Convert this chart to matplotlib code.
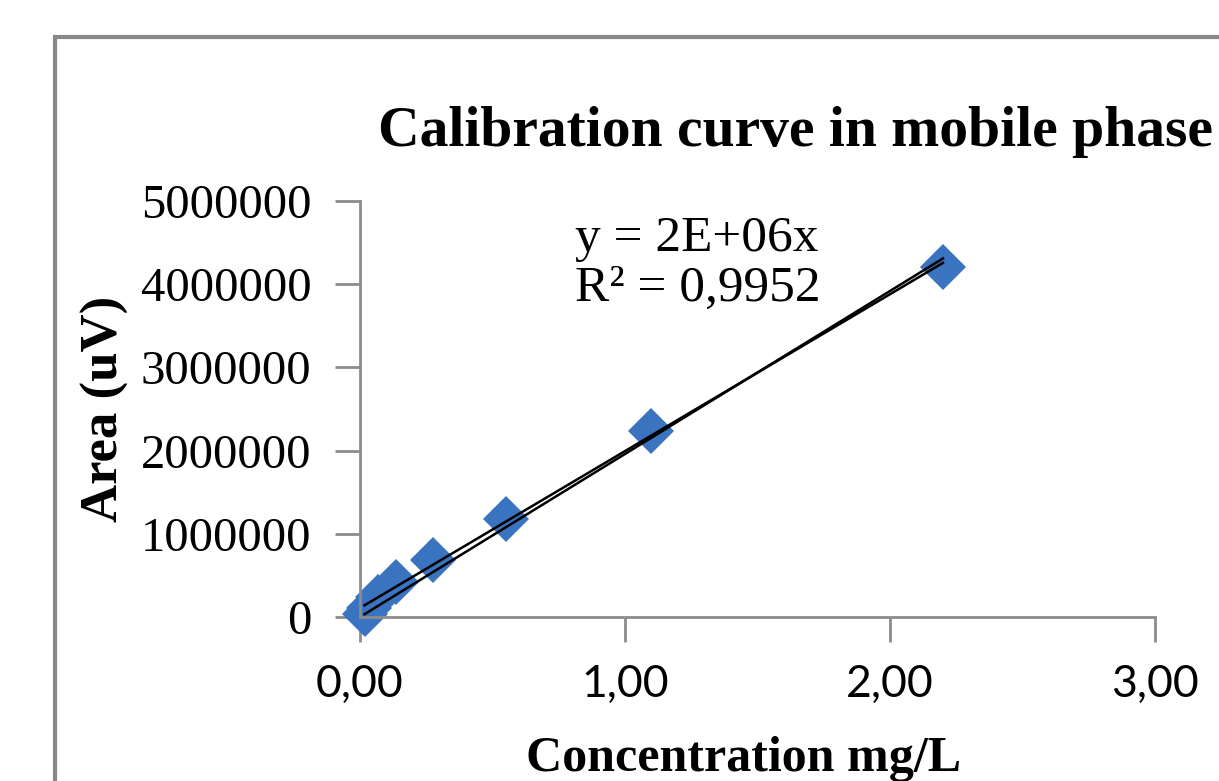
import numpy as np
import matplotlib.pyplot as plt
from matplotlib.patches import Rectangle

# calibration data
conc = [0.0172, 0.0344, 0.0688, 0.1375, 0.275, 0.55, 1.1, 2.2]
area = [40000, 110000, 240000, 420000, 690000, 1180000, 2240000, 4210000]
xticks = [0, 1, 2, 3]
xticklabels = ['0,00', '1,00', '2,00', '3,00']
yticks = [0, 1000000, 2000000, 3000000, 4000000, 5000000]

x = np.array(conc)
y = np.array(area)

# trendline forced through zero (Excel style) plus ordinary fit
slope0 = np.sum(x * y) / np.sum(x * x)
a, b = np.polyfit(x, y, 1)
xl = np.array([x.min(), x.max()])

fig = plt.figure(figsize=(12.19, 7.81), dpi=100)
ax = fig.add_axes([0.2953, 0.21, 0.6522, 0.5326])

# chart border, cropped on the right and bottom
fig.patches.append(Rectangle((55 / 1219, -0.1), 1.2, 0.1 + (781 - 37) / 781,
                             transform=fig.transFigure, fill=False,
                             edgecolor='#878787', linewidth=3, zorder=0))

ax.plot(x, y, 'D', color='#3A73BF', markersize=23, markeredgewidth=0,
        zorder=2, clip_on=False)
ax.plot(xl, slope0 * xl, color='black', lw=1.8, zorder=3)
ax.plot(xl, a * xl + b, color='black', lw=1.8, zorder=3)

ax.set_xlim(0, 3)
ax.set_ylim(0, 5000000)
ax.set_xticks(xticks)
ax.set_xticklabels(xticklabels, fontfamily='Lato', fontsize=32)
ax.set_yticks(yticks)
ax.set_yticklabels([str(v) for v in yticks], fontfamily='Liberation Serif',
                   fontsize=35)
ax.tick_params(axis='both', direction='out', length=18, width=2,
               color='#8c8c8c')
ax.tick_params(axis='x', pad=16)
ax.tick_params(axis='y', pad=17)

for s in ['top', 'right']:
    ax.spines[s].set_visible(False)
for s in ['left', 'bottom']:
    ax.spines[s].set_color('#8c8c8c')
    ax.spines[s].set_linewidth(2)

ax.set_ylabel('Area (uV)', fontfamily='Liberation Serif', fontweight='bold',
              fontsize=38)
ax.yaxis.set_label_coords(-0.29, 0.5)
ax.set_xlabel('Concentration mg/L', fontfamily='Liberation Serif',
              fontweight='bold', fontsize=36)
ax.xaxis.set_label_coords(0.482, -0.285)

fig.text(378 / 1219, 1 - 132 / 781, 'Calibration curve in mobile phase',
         fontfamily='Liberation Serif', fontweight='bold', fontsize=41.5,
         va='center', ha='left')

ax.text(0.27, 0.965, 'y = 2E+06x\nR² = 0,9952', transform=ax.transAxes,
        fontfamily='Liberation Serif', fontsize=37, va='top', ha='left',
        linespacing=1.1)

fig.savefig('out.png', dpi=100)
